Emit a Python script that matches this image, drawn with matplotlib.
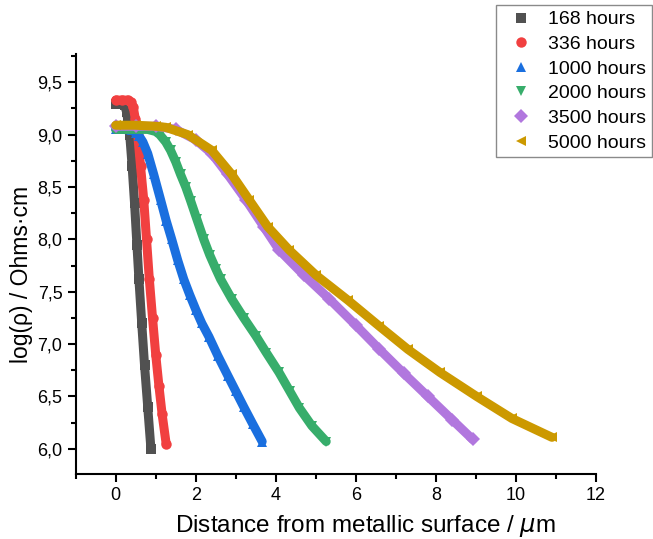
import matplotlib
matplotlib.use('Agg')
import matplotlib.pyplot as plt
from matplotlib.ticker import MultipleLocator, FuncFormatter

plt.rcParams['font.family'] = ['Liberation Sans', 'DejaVu Sans']

# series: distance (um) vs log(rho)
x168 = [0.0, 0.12, 0.22, 0.27, 0.31, 0.35, 0.41, 0.47, 0.53, 0.58, 0.65, 0.72, 0.80, 0.88]
y168 = [9.29, 9.29, 9.28, 9.22, 9.12, 9.00, 8.70, 8.35, 7.95, 7.62, 7.20, 6.80, 6.40, 6.00]

x336 = [0.0, 0.15, 0.30, 0.38, 0.44, 0.49, 0.55, 0.62, 0.70, 0.77, 0.84, 0.92, 1.00, 1.08, 1.16, 1.26]
y336 = [9.33, 9.33, 9.33, 9.31, 9.26, 9.15, 9.00, 8.70, 8.38, 8.00, 7.62, 7.25, 6.90, 6.60, 6.33, 6.05]

x1000 = [0.0, 0.2, 0.4, 0.5, 0.58, 0.68, 0.80, 0.95, 1.12, 1.26, 1.40, 1.55, 1.70, 1.85,
         2.00, 2.15, 2.33, 2.55, 2.80, 3.00, 3.20, 3.42, 3.66]
y1000 = [9.05, 9.05, 9.04, 9.02, 8.99, 8.93, 8.82, 8.62, 8.38, 8.18, 8.00, 7.80, 7.62, 7.47,
         7.33, 7.20, 7.07, 6.89, 6.70, 6.55, 6.40, 6.24, 6.07]

x2000 = [0.0, 0.4, 0.8, 1.0, 1.1, 1.25, 1.37, 1.50, 1.62, 1.75, 1.87, 2.03, 2.20, 2.35, 2.50,
         2.62, 2.90, 3.20, 3.50, 3.76, 4.08, 4.35, 4.59, 4.90, 5.26]
y2000 = [9.05, 9.05, 9.05, 9.03, 9.00, 8.93, 8.85, 8.74, 8.62, 8.50, 8.37, 8.19, 8.00, 7.85, 7.72,
         7.62, 7.43, 7.25, 7.08, 6.92, 6.73, 6.55, 6.39, 6.22, 6.07]

x3500 = [0.0, 0.5, 1.0, 1.5, 2.0, 2.4, 2.8, 3.25, 3.7, 4.08, 4.7, 5.34, 6.0, 6.59, 7.2, 7.8, 8.4, 8.92]
y3500 = [9.08, 9.08, 9.08, 9.05, 8.95, 8.82, 8.62, 8.38, 8.12, 7.90, 7.66, 7.43, 7.18, 6.95, 6.72, 6.50, 6.28, 6.09]

x5000 = [0.0, 0.5, 1.0, 1.25, 1.8, 2.4, 2.9, 3.33, 3.8, 4.33, 5.0, 5.8, 6.59, 7.3, 8.1, 9.02, 9.9, 10.9]
y5000 = [9.09, 9.09, 9.08, 9.07, 9.00, 8.85, 8.62, 8.38, 8.12, 7.90, 7.66, 7.42, 7.17, 6.95, 6.73, 6.50, 6.29, 6.11]

labels = ['168 hours', '336 hours', '1000 hours', '2000 hours', '3500 hours', '5000 hours']
colors = ['#515151', '#F14040', '#1A6FDF', '#37AD6B', '#B177DE', '#CC9900']
markers = ['s', 'o', '^', 'v', 'D', '<']
xs = [x168, x336, x1000, x2000, x3500, x5000]
ys = [y168, y336, y1000, y2000, y3500, y5000]

fig = plt.figure(figsize=(6.53, 5.39), dpi=100)
ax = fig.add_axes([0.1159, 0.1206, 0.7968, 0.7792])

for i in range(6):
    # dense markers in the original form a solid band
    ax.plot(xs[i], ys[i], color=colors[i], lw=6.5, solid_capstyle='round',
            solid_joinstyle='round', zorder=2 + i)
    ax.plot(xs[i], ys[i], ls='none', marker=markers[i], ms=7.5, mew=0,
            color=colors[i], label=labels[i], zorder=2 + i)

ax.set_xlim(-1, 12)
ax.set_ylim(5.76, 9.77)
ax.xaxis.set_major_locator(MultipleLocator(2))
ax.xaxis.set_minor_locator(MultipleLocator(1))
ax.yaxis.set_major_locator(MultipleLocator(0.5))
ax.yaxis.set_minor_locator(MultipleLocator(0.25))
ax.yaxis.set_major_formatter(FuncFormatter(lambda v, p: ('%.1f' % v).replace('.', ',')))

for s in ['top', 'right']:
    ax.spines[s].set_visible(False)
for s in ['left', 'bottom']:
    ax.spines[s].set_linewidth(1.5)
ax.tick_params(which='major', direction='out', length=6, width=1.5, labelsize=13)
ax.tick_params(which='minor', direction='out', length=3.5, width=1.5)

ax.set_xlabel('Distance from metallic surface / $\\mu$m', fontsize=17.5)
ax.set_ylabel('log(ρ) / Ohms·cm', fontsize=16.5)
ax.xaxis.set_label_coords(0.556, -0.093)
ax.yaxis.set_label_coords(-0.082, 0.474)

leg = fig.legend(loc='upper right', bbox_to_anchor=(0.9985, 0.9907), fontsize=14,
                 fancybox=False, framealpha=1, edgecolor='#8a8a8a',
                 handletextpad=0.4, handlelength=2.0, borderpad=0.3,
                 labelspacing=0.36, markerscale=1.0, borderaxespad=0)
leg.get_frame().set_linewidth(1.0)

fig.savefig('out.png', dpi=100)
